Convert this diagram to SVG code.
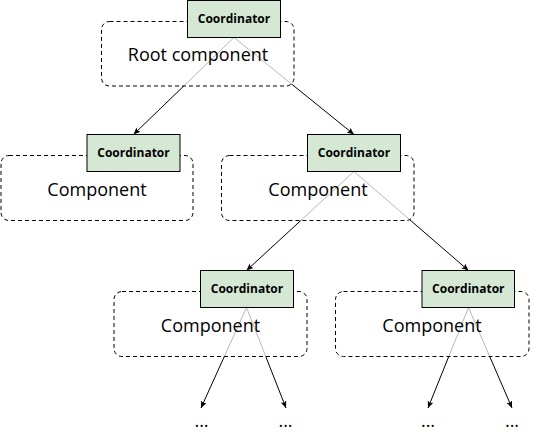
<svg xmlns="http://www.w3.org/2000/svg" width="540" height="434" viewBox="0 0 540 434">
<defs>
<marker id="arr" markerWidth="8" markerHeight="7" refX="7" refY="3" orient="auto" markerUnits="userSpaceOnUse">
<path d="M0,0 L7,3 L0,6 L1.5,3 z" fill="#000"/>
</marker>
<style>
.conn{stroke:#000;stroke-width:1;fill:none;marker-end:url(#arr)}
.comp{fill:#fff;fill-opacity:0.72;stroke:#000;stroke-width:1;stroke-dasharray:4 3}
.coord{fill:#d5e8d4;stroke:#000;stroke-width:1}
.ct{font-family:"Open Sans","Noto Sans",sans-serif;font-size:12px;font-weight:bold;text-anchor:middle;fill:#000}
.lt{font-family:"Open Sans","Noto Sans",sans-serif;font-size:18px;text-anchor:middle;fill:#000}
</style>
</defs>
<rect width="540" height="434" fill="#fff"/>
<g id="connectors">
<line class="conn" x1="234" y1="37.5" x2="133.5" y2="134.5"/>
<line class="conn" x1="234" y1="37.5" x2="354" y2="134.5"/>
<line class="conn" x1="354" y1="171.5" x2="246.5" y2="270.5"/>
<line class="conn" x1="354" y1="171.5" x2="468.5" y2="270.5"/>
<line class="conn" x1="246.5" y1="307.5" x2="201" y2="408"/>
<line class="conn" x1="246.5" y1="307.5" x2="286" y2="408"/>
<line class="conn" x1="468.5" y1="307.5" x2="428" y2="408"/>
<line class="conn" x1="468.5" y1="307.5" x2="512" y2="408"/>
</g>
<g id="root">
<rect class="comp" x="101.5" y="21.5" width="192.5" height="64.5" rx="8"/>
<rect class="coord" x="187.5" y="0.5" width="93" height="37"/>
<text class="ct" x="234" y="23">Coordinator</text>
<text class="lt" x="198" y="61">Root component</text>
</g>
<g id="comp-left">
<rect class="comp" x="1" y="155.5" width="192" height="65" rx="8"/>
<rect class="coord" x="87" y="134.5" width="93" height="37"/>
<text class="ct" x="133.5" y="157">Coordinator</text>
<text class="lt" x="97" y="196">Component</text>
</g>
<g id="comp-mid">
<rect class="comp" x="221.5" y="155.5" width="192.5" height="65" rx="8"/>
<rect class="coord" x="307.5" y="134.5" width="93" height="37"/>
<text class="ct" x="354" y="157">Coordinator</text>
<text class="lt" x="318" y="196">Component</text>
</g>
<g id="comp-bl">
<rect class="comp" x="114" y="291.5" width="193" height="65" rx="8"/>
<rect class="coord" x="200.5" y="270.5" width="93" height="37"/>
<text class="ct" x="247" y="293">Coordinator</text>
<text class="lt" x="210.5" y="331.5">Component</text>
</g>
<g id="comp-br">
<rect class="comp" x="335.5" y="291.5" width="193.5" height="65" rx="8"/>
<rect class="coord" x="422" y="270.5" width="92.5" height="37"/>
<text class="ct" x="468.3" y="293">Coordinator</text>
<text class="lt" x="432" y="331.5">Component</text>
</g>
<g id="ellipses">
<text class="lt" x="201.5" y="427">...</text>
<text class="lt" x="285.5" y="427">...</text>
<text class="lt" x="428" y="427">...</text>
<text class="lt" x="512" y="427">...</text>
</g>
</svg>
